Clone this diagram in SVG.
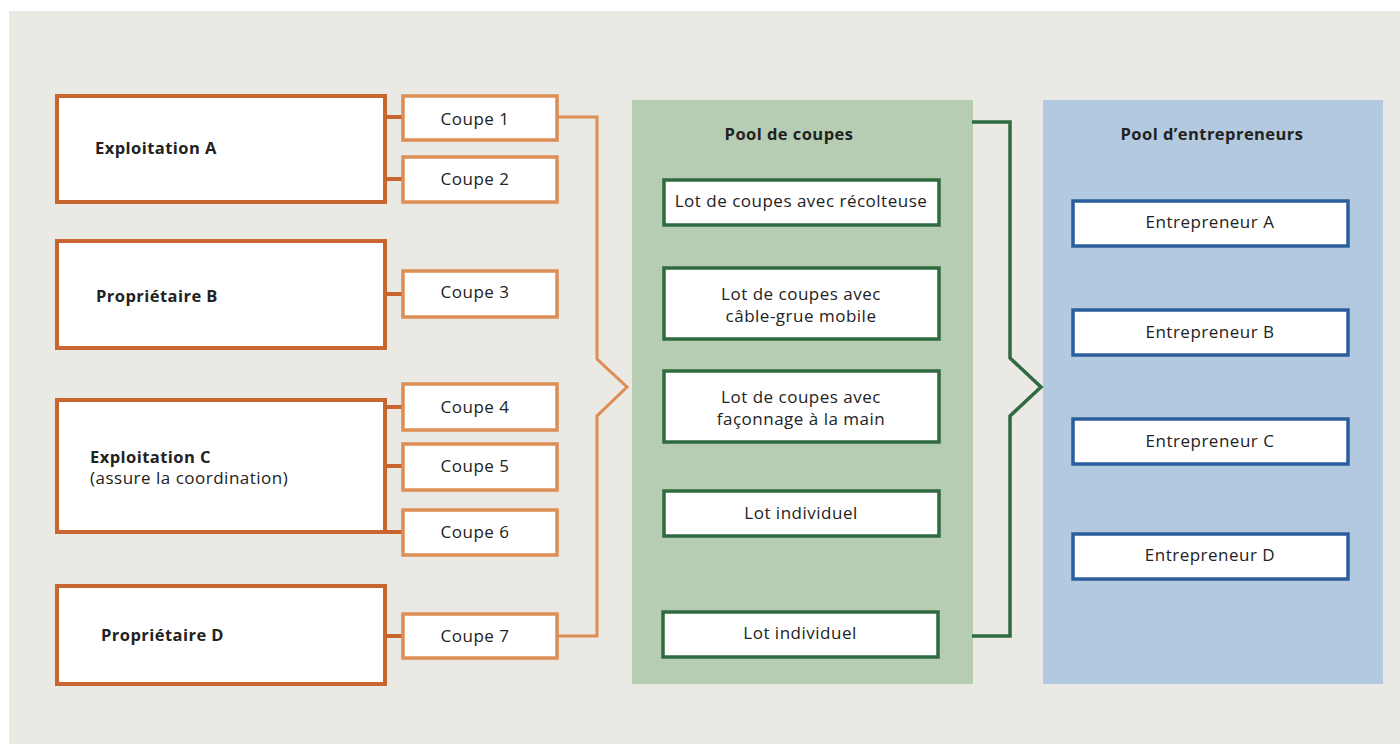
<svg xmlns="http://www.w3.org/2000/svg" width="1400" height="744" viewBox="0 0 1400 744">
<style>
text{font-family:"Open Sans","Liberation Sans",sans-serif;fill:#222;font-size:17px;letter-spacing:0.5px}
.b{font-weight:bold;font-size:16.5px;letter-spacing:0.45px}
.c{text-anchor:middle}
.own{fill:#fff;stroke:#c9652f;stroke-width:4}
.cp{fill:#fff;stroke:#dc8e54;stroke-width:3.5}
.lot{fill:#fff;stroke:#2f6a40;stroke-width:3.5}
.ent{fill:#fff;stroke:#2b5e9c;stroke-width:3.5}
.ln{fill:none;stroke:#c9652f;stroke-width:4}
.lo{fill:none;stroke:#dc8e54;stroke-width:3}
.lg{fill:none;stroke:#2f6a40;stroke-width:3.5}
</style>
<rect x="0" y="0" width="1400" height="744" fill="#fff"/>
<rect x="9" y="11" width="1391" height="733" fill="#ebe9e4"/>
<g id="pool-coupes">
<rect x="632" y="100" width="341" height="584" fill="#b6cdb4"/>
<text class="b c" x="789" y="140">Pool de coupes</text>
</g>
<g id="pool-entrepreneurs">
<rect x="1043" y="100" width="340" height="584" fill="#b2c9df"/>
<text class="b c" x="1212" y="140">Pool d’entrepreneurs</text>
</g>
<g id="connectors">
<path class="ln" d="M385 117H403M385 179H403M385 294H403M385 407H403M385 466H403M385 532H403M385 636H403"/>
<path class="lo" d="M557 117H597V359L627 387L597 416V636H557"/>
<path class="lg" d="M972 122H1010V358L1041 387L1010 416V636H972"/>
</g>
<g id="exploitation-a"><rect class="own" x="57" y="96" width="328" height="106"/><text class="b" x="95" y="154">Exploitation A</text></g>
<g id="proprietaire-b"><rect class="own" x="57" y="241" width="328" height="107"/><text class="b" x="96" y="302">Propriétaire B</text></g>
<g id="exploitation-c"><rect class="own" x="57" y="400" width="328" height="132"/><text class="b" x="90" y="463">Exploitation C</text><text x="90" y="484">(assure la coordination)</text></g>
<g id="proprietaire-d"><rect class="own" x="57" y="586" width="328" height="98"/><text class="b" x="101" y="641">Propriétaire D</text></g>
<g id="coupe-1"><rect class="cp" x="403" y="96" width="154" height="44"/><text class="c" x="475" y="125">Coupe 1</text></g>
<g id="coupe-2"><rect class="cp" x="403" y="157" width="154" height="45"/><text class="c" x="475" y="185">Coupe 2</text></g>
<g id="coupe-3"><rect class="cp" x="403" y="271" width="154" height="46"/><text class="c" x="475" y="298">Coupe 3</text></g>
<g id="coupe-4"><rect class="cp" x="403" y="384" width="154" height="46"/><text class="c" x="475" y="413">Coupe 4</text></g>
<g id="coupe-5"><rect class="cp" x="403" y="444" width="154" height="46"/><text class="c" x="475" y="472">Coupe 5</text></g>
<g id="coupe-6"><rect class="cp" x="403" y="510" width="154" height="45"/><text class="c" x="475" y="538">Coupe 6</text></g>
<g id="coupe-7"><rect class="cp" x="403" y="614" width="154" height="44"/><text class="c" x="475" y="642">Coupe 7</text></g>
<g id="lot-recolteuse"><rect class="lot" x="664" y="180" width="275" height="45"/><text class="c" x="801" y="207">Lot de coupes avec récolteuse</text></g>
<g id="lot-cable-grue"><rect class="lot" x="664" y="268" width="275" height="71"/><text class="c" x="801" y="300">Lot de coupes avec</text><text class="c" x="801" y="322">câble-grue mobile</text></g>
<g id="lot-faconnage"><rect class="lot" x="664" y="371" width="275" height="71"/><text class="c" x="801" y="403">Lot de coupes avec</text><text class="c" x="801" y="425">façonnage à la main</text></g>
<g id="lot-individuel-1"><rect class="lot" x="664" y="491" width="275" height="45"/><text class="c" x="801" y="519">Lot individuel</text></g>
<g id="lot-individuel-2"><rect class="lot" x="663" y="612" width="275" height="45"/><text class="c" x="800" y="639">Lot individuel</text></g>
<g id="entrepreneur-a"><rect class="ent" x="1073" y="201" width="275" height="45"/><text class="c" x="1210" y="228">Entrepreneur A</text></g>
<g id="entrepreneur-b"><rect class="ent" x="1073" y="310" width="275" height="45"/><text class="c" x="1210" y="338">Entrepreneur B</text></g>
<g id="entrepreneur-c"><rect class="ent" x="1073" y="419" width="275" height="45"/><text class="c" x="1210" y="447">Entrepreneur C</text></g>
<g id="entrepreneur-d"><rect class="ent" x="1073" y="534" width="275" height="45"/><text class="c" x="1210" y="561">Entrepreneur D</text></g>
</svg>
